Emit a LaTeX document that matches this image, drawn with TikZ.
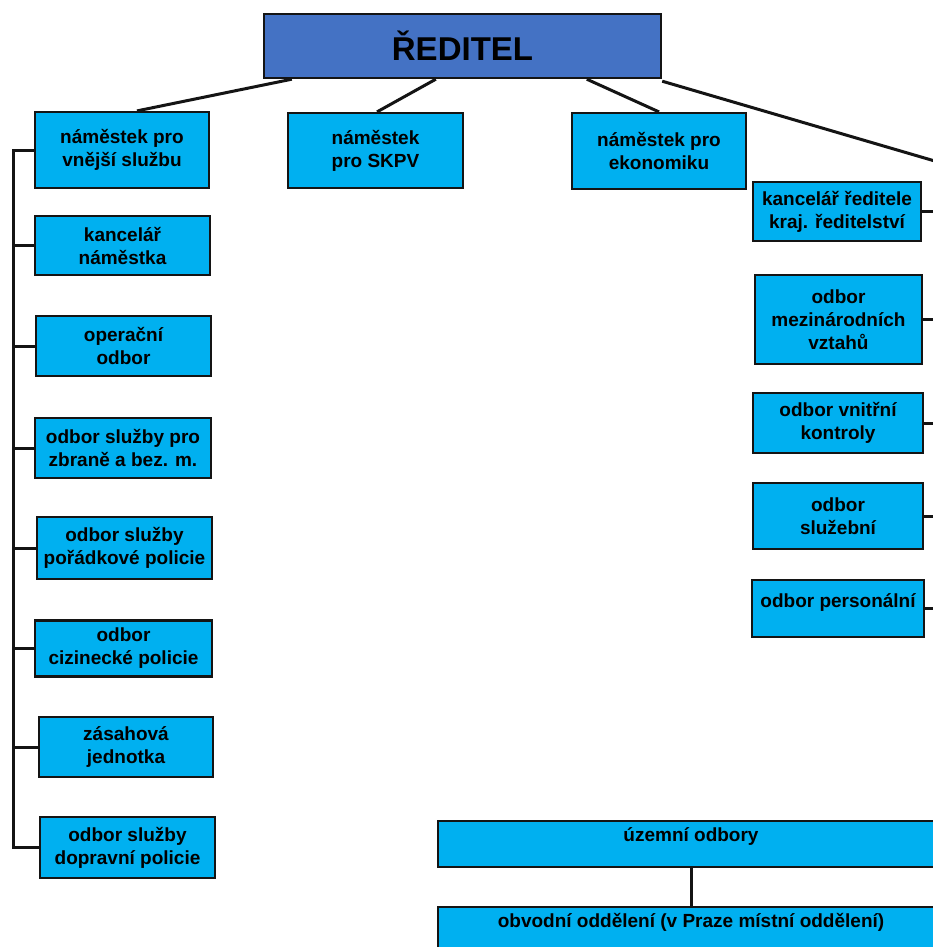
\documentclass[tikz,border=0pt]{standalone}
\usepackage{fontspec}
\setmainfont{Liberation Sans}
\usetikzlibrary{calc}
\definecolor{cyanbox}{HTML}{00B0F0}
\definecolor{dirbox}{HTML}{4472C4}
\definecolor{edge}{HTML}{141414}
\begin{document}
\begin{tikzpicture}[x=1pt,y=-1pt,
  box/.style={draw=edge, line width=2.2pt, fill=cyanbox, inner sep=0pt, align=center,
    font=\bfseries\fontsize{19}{23}\selectfont, text=black},
  dirnode/.style={draw=edge, line width=2.4pt, fill=dirbox, inner sep=0pt,
    font=\bfseries\fontsize{33}{38}\selectfont, text=black},
  txt/.style={inner sep=0pt, font=\bfseries\fontsize{19}{23}\selectfont, text=black},
  conn/.style={draw=edge, line width=3pt}]
\useasboundingbox (0,0) rectangle (933,947);
\fill[white] (0,0) rectangle (933,947);
\clip (0,0) rectangle (933,947);

% director
\node[dirnode, minimum width=397pt, minimum height=64pt] (D) at (462.5,46) {ŘEDITEL};

% deputies
\node[box, minimum width=174pt, minimum height=76pt] (L1) at (122,150) {náměstek pro\\vnější službu};
\node[box, minimum width=175pt, minimum height=75pt] (M1) at (375.5,150.5) {náměstek\\pro SKPV};
\node[box, minimum width=174pt, minimum height=76pt] (M2) at (659,151) {náměstek pro\\ekonomiku};

% left column
\node[box, minimum width=175pt, minimum height=59pt] (L2) at (122.5,245.5) {kancelář\\náměstka};
\node[box, minimum width=175pt, minimum height=60pt] (L3) at (123.5,346) {operační\\odbor};
\node[box, minimum width=176pt, minimum height=60pt] (L4) at (123,448) {odbor služby pro\\zbraně a bez. m.};
\node[box, minimum width=175pt, minimum height=62pt] (L5) at (124.5,548) {odbor služby\\pořádkové policie};
\node[box, minimum width=177pt, minimum height=56pt] (L6) at (123.5,648.5) {odbor\\cizinecké policie};
\node[box, minimum width=174pt, minimum height=60pt] (L7) at (126,747) {zásahová\\jednotka};
\node[box, minimum width=175pt, minimum height=61pt] (L8) at (127.5,847.5) {odbor služby\\dopravní policie};

% right column
\node[box, minimum width=168pt, minimum height=59pt] (R1) at (837,211.5) {kancelář ředitele\\kraj. ředitelství};
\node[box, minimum width=167pt, minimum height=89pt] (R2) at (838.5,319.5) {odbor\\mezinárodních\\vztahů};
\node[box, minimum width=170pt, minimum height=60pt] (R3) at (838,423) {odbor vnitřní\\kontroly};
\node[box, minimum width=170pt, minimum height=66pt] (R4) at (838,516) {odbor\\služební};
\node[box, minimum width=172pt, minimum height=57pt] (R5) at (838,608.5) {};
\node[txt] (R5t) at ($(R5.north)+(0,24)$) {odbor personální};

% bottom
\node[box, minimum width=506pt, minimum height=46pt] (B1) at (691,844) {};
\node[txt] (B1t) at ($(B1.north)+(0,17)$) {územní odbory};
\node[box, minimum width=506pt, minimum height=60pt] (B2) at (691,937) {};
\node[txt] (B2t) at ($(B2.north)+(0,16)$) {obvodní oddělení (v Praze místní oddělení)};

% connectors from director
\coordinate (Rend) at (945,164);
\coordinate (LS) at (13,0);
\coordinate (RS) at (945,0);
\draw[conn] ([xshift=29pt]D.south west) -- ([xshift=15pt]L1.north);
\draw[conn] ([xshift=173pt]D.south west) -- ([xshift=1.5pt]M1.north);
\draw[conn] ([xshift=324pt]D.south west) -- (M2.north);
\draw[conn] ([yshift=-2pt]D.south east) -- (Rend);

% left spine
\draw[conn, line join=miter] (L1.west) -- (L1.west -| LS) -- (L8.west -| LS) -- (L8.west);
\foreach \n in {L2,L3,L4,L5,L6,L7}
  \draw[conn] (\n.west) -- (\n.west -| LS);

% right connectors
\foreach \n in {R1,R2,R3,R4,R5}
  \draw[conn] (\n.east) -- (\n.east -| RS);

% bottom connector
\draw[conn] (B1.south) -- (B2.north);
\end{tikzpicture}
\end{document}
